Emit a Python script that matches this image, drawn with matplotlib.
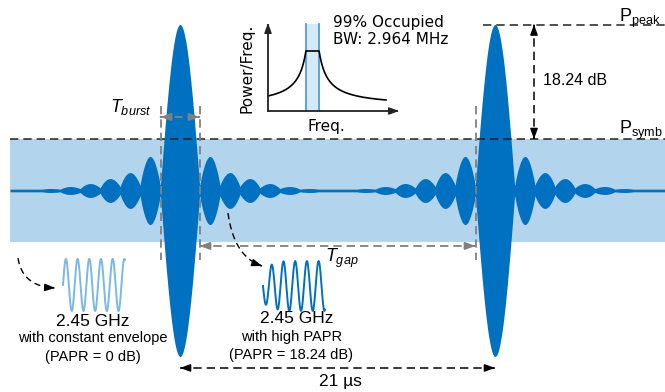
import numpy as np
import matplotlib
matplotlib.use("Agg")
import matplotlib.pyplot as plt

plt.rcParams["font.family"] = ["Liberation Sans", "DejaVu Sans"]
plt.rcParams["mathtext.fontset"] = "custom"
plt.rcParams["mathtext.rm"] = "Liberation Sans"
plt.rcParams["mathtext.it"] = "Liberation Sans:italic"
plt.rcParams["lines.scale_dashes"] = False

# burst train: time in us, amplitude normalised to the burst peak
pulse_times = [0.0, 21.0]
lobe_width = 1.33
lobe_amps = [1.0, 0.205, 0.108, 0.072, 0.042, 0.024, 0.012]
neck_amps = [0.035, 0.03, 0.022, 0.015, 0.011, 0.008, 0.006]
floor_amp = 0.008
p_symb = 0.31
p_peak = 1.0
t_start, t_end = -11.33, 32.33
burst_edges = (-1.3, 1.3)
gap_end = 19.7
papr_db = 18.24
period_us = 21
occupied_bw = 2.964

# spectrum inset (arbitrary units)
psd_center = 44.5
psd_band = (38, 51)
psd_plateau = 60
psd_end_levels = (15, 11)
psd_span = (0, 118)

BLUE = "#0070c0"
BAND = "#b3d4ed"
LIGHT = "#7ab8e6"
GRAY = "#808080"
DASH = (0, (6, 3.6))

fig = plt.figure(figsize=(6.65, 3.92), dpi=100)
ax = fig.add_axes([0, 0, 1, 1])
ax.set_xlim(-12, 32.333)
ax.set_ylim((190.5 - 392) / 166, 190.5 / 166)
ax.axis("off")


def head(ax, tip, tail, color, lw=1.1):
    ax.annotate("", xy=tip, xytext=tail,
                arrowprops=dict(arrowstyle="-|>,head_length=0.6,head_width=0.22",
                                color=color, lw=lw, shrinkA=0, shrinkB=0))


def dashed_arrow(ax, p0, p1, color, lw=1.1, both=True):
    p0, p1 = np.array(p0, float), np.array(p1, float)
    ax.plot([p0[0], p1[0]], [p0[1], p1[1]], ls=DASH, color=color, lw=lw)
    head(ax, p1, p1 + (p0 - p1) * 0.01, color, lw)
    if both:
        head(ax, p0, p0 + (p1 - p0) * 0.01, color, lw)


def curved_arrow(ax, p0, pc, p1, color="k"):
    s = np.linspace(0, 1, 60)[:, None]
    p0, pc, p1 = (np.array(p) for p in (p0, pc, p1))
    pts = (1 - s) ** 2 * p0 + 2 * (1 - s) * s * pc + s ** 2 * p1
    ax.plot(pts[:, 0], pts[:, 1], ls=(0, (4.5, 3)), color=color, lw=1.0)
    head(ax, pts[-1], pts[-3], color, 1.0)


# symbol power band
ax.fill_between([t_start, t_end], -p_symb, p_symb, color=BAND, lw=0, zorder=0)

# sinc-like burst envelope: rounded lobes joined by thin necks
t = np.linspace(t_start, t_end, 8000)
env = np.zeros_like(t)
n = len(lobe_amps)
amps_ext = np.array(lobe_amps + [0.0])
necks_ext = np.array([neck_amps[0]] + neck_amps + [0.0])
for tc in pulse_times:
    u = np.abs(t - tc) / lobe_width
    k = np.minimum(np.floor(u).astype(int), n)
    frac = u - np.floor(u)
    inner = necks_ext[k]
    outer = necks_ext[np.minimum(k + 1, n)]
    base = np.where(k == 0, 0.0, inner + (outer - inner) * frac)
    bulb = np.sin(np.pi * frac) ** 0.85
    main = np.where(k == 0, np.maximum(np.cos(np.pi * u / 2), outer), 0.0)
    side = np.where(k == 0, 0.0, base + (amps_ext[k] - base) * bulb)
    env += np.where(k >= n, 0.0, main * amps_ext[0] + side)
env = np.maximum(env, floor_amp)
ax.fill_between(t, -env, env, color=BLUE, lw=0, zorder=1)

# power levels
ax.plot([t_start, t_end], [p_symb, p_symb], ls=DASH, color="#222222", lw=1.1, zorder=3)
ax.plot([20.2, t_end], [p_peak, p_peak], ls=DASH, color="#222222", lw=1.1, zorder=3)
dashed_arrow(ax, (23.6, p_peak), (23.6, p_symb), "k")
ax.text(24.2, 0.66, f"{papr_db} dB", fontsize=11.5, va="center", ha="left")
ax.text(29.27, 1.018, r"P$_{\mathrm{peak}}$", fontsize=13, va="baseline")
ax.text(29.27, 0.34, r"P$_{\mathrm{symb}}$", fontsize=13, va="baseline")

# burst / gap markers
for x in (burst_edges[0], burst_edges[1], gap_end):
    ax.plot([x, x], [0.509, -0.419], ls=DASH, color=GRAY, lw=1.3, zorder=3)
dashed_arrow(ax, (burst_edges[0], 0.443), (burst_edges[1], 0.443), GRAY, lw=1.3)
ax.text(-1.93, 0.473, r"$T_{burst}$", fontsize=13, ha="right", va="baseline")
dashed_arrow(ax, (burst_edges[1], -0.334), (gap_end, -0.334), GRAY, lw=1.3)
ax.text(9.67, -0.431, r"$T_{gap}$", fontsize=13, ha="left", va="baseline")

# period
dashed_arrow(ax, (pulse_times[0], -1.069), (pulse_times[1], -1.069), "k")
ax.text(10.67, -1.148, f"{period_us} µs", fontsize=12.5, ha="center", va="center")

# carrier sketches
ts = np.linspace(-7.8, -3.67, 300)
ax.plot(ts, -0.569 + 0.157 * np.sin(2 * np.pi * 5.3 * (ts - ts[0]) / (ts[-1] - ts[0])),
        color=LIGHT, lw=1.4)
tm = np.linspace(5.53, 9.67, 300)
w = (tm - tm[0]) / (tm[-1] - tm[0])
ax.plot(tm, -0.575 - 0.15 * (0.7 + 0.3 * np.sin(np.pi * np.minimum(w * 2.5, 1) / 2))
        * np.sin(2 * np.pi * 5.3 * w), color=BLUE, lw=1.4)

curved_arrow(ax, (-10.8, -0.407), (-10.5, -0.58), (-8.33, -0.587))
curved_arrow(ax, (3.2, -0.136), (3.6, -0.40), (5.47, -0.455))

ax.text(-5.8, -0.792, "2.45 GHz", fontsize=12.5, ha="center", va="center")
ax.text(-5.8, -0.889, "with constant envelope", fontsize=10.5, ha="center", va="center")
ax.text(-5.8, -1.003, "(PAPR = 0 dB)", fontsize=10.5, ha="center", va="center")
ax.text(7.8, -0.774, "2.45 GHz", fontsize=12.5, ha="center", va="center")
ax.text(7.47, -0.883, "with high PAPR", fontsize=10.5, ha="center", va="center")
ax.text(7.4, -0.991, f"(PAPR = {papr_db} dB)", fontsize=10.5, ha="center", va="center")

# spectrum inset
ins = fig.add_axes([268 / 665, 1 - 111 / 392, 134 / 665, 91 / 392])
ins.set_xlim(0, 134)
ins.set_ylim(0, 91)
ins.axis("off")
ins.fill_between(psd_band, 0, 87, color="#d6e9f7", lw=0)
for x in psd_band:
    ins.plot([x, x], [0, 87], color="#4d9edb", lw=1.3)

# 1/f-like skirts that reach the plateau at the band edges
half = (psd_band[1] - psd_band[0]) / 2
dl, dr = psd_center - psd_span[0], psd_span[1] - psd_center
c = -2.2
b = (psd_end_levels[0] - psd_end_levels[1]) / (1 / (dl - c) - 1 / (dr - c))
a = psd_end_levels[0] - b / (dl - c)
f = np.linspace(*psd_span, 1000)
d = np.abs(f - psd_center)
h = np.where(d > half, a + b / (d - c), psd_plateau)
h = np.minimum(h, psd_plateau)
ins.plot(f, h, color="k", lw=1.2, clip_on=False)

ins.plot([0, 0], [0, 86], color="#222222", lw=1.3, clip_on=False)
ins.plot([0, 129], [0, 0], color="#222222", lw=1.3, clip_on=False)
head(ins, (0, 88), (0, 84), "#222222", 1.0)
head(ins, (131, 0), (127, 0), "#222222", 1.0)
ins.text(-21, 43, "Power/Freq.", fontsize=11, rotation=90, ha="center", va="center",
         family="DejaVu Sans")
ins.text(58, -15, "Freq.", fontsize=11, ha="center", va="center", family="DejaVu Sans")
ins.text(65, 80, f"99% Occupied\nBW: {occupied_bw} MHz", fontsize=11, ha="left",
         va="center", linespacing=1.25, family="DejaVu Sans")

fig.savefig("out.png", dpi=100)
